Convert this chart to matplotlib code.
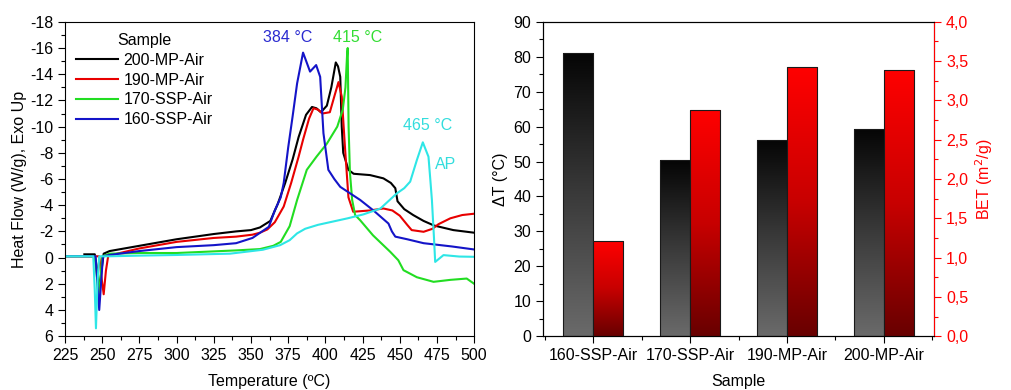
import matplotlib.pyplot as plt
import numpy as np
from matplotlib.colors import LinearSegmentedColormap
from matplotlib.ticker import MultipleLocator, FuncFormatter

plt.rcParams['font.family'] = ['Liberation Sans', 'DejaVu Sans']
plt.rcParams['font.size'] = 11.5
plt.rcParams['axes.unicode_minus'] = False

# DSC curves: temperature (C) and heat flow (W/g)
T_200 = [238, 245, 246.5, 248, 249.5, 251, 255, 275, 300, 325, 340, 350, 356, 363, 368, 373,
         378, 382, 387, 391, 394, 397, 401, 404, 407, 408.5, 410, 411, 412, 415.5, 419, 430,
         439, 444, 447, 448.5, 453, 459, 466, 473, 486, 500]
HF_200 = [-0.25, -0.25, 0.8, 2.5, 1.0, -0.3, -0.5, -0.9, -1.4, -1.8, -2.0, -2.1, -2.3, -2.8, -4.1, -5.7,
          -7.5, -9.2, -10.9, -11.5, -11.4, -11.1, -11.6, -13.0, -14.9, -14.6, -13.8, -10.0, -8.0, -6.7, -6.4, -6.3,
          -6.05, -5.7, -5.3, -4.3, -3.7, -3.25, -2.8, -2.45, -2.1, -1.9]

T_190 = [225, 248, 249.5, 251, 252.5, 254, 260, 275, 300, 325, 340, 351, 356, 361, 366, 372,
         377, 382, 385, 389, 392, 395, 398, 403, 406, 408.8, 411, 413.3, 415.5, 418.7, 430, 439,
         445, 450, 455, 458, 466, 472, 476, 484, 492, 500]
HF_190 = [-0.1, -0.1, 1.5, 2.8, 1.0, -0.1, -0.3, -0.7, -1.2, -1.5, -1.6, -1.75, -1.9, -2.15, -2.7, -3.9,
          -5.7, -7.7, -9.0, -10.6, -11.4, -11.3, -11.0, -11.1, -12.3, -13.4, -12.3, -8.2, -4.6, -3.5, -3.6, -3.75,
          -3.6, -3.2, -2.5, -2.1, -1.97, -2.2, -2.55, -3.0, -3.25, -3.35]

T_170 = [225, 245, 246.5, 247.5, 248.5, 250, 255, 275, 300, 340, 356, 365, 370, 376, 381, 387.5,
         394, 401, 408, 411.7, 413.5, 414.6, 415.0, 415.6, 416.5, 418, 420, 423.4, 432, 443.6,
         449, 452.5, 461.5, 472.7, 484, 495, 500]
HF_170 = [-0.1, -0.1, 1.5, 3.0, 2.0, -0.1, -0.3, -0.35, -0.35, -0.55, -0.65, -0.9, -1.2, -2.4, -4.4, -6.7,
          -7.7, -8.7, -10.0, -11.3, -13.0, -15.5, -16.0, -10.0, -6.5, -4.4, -3.25, -2.85, -1.7, -0.44,
          0.2, 0.96, 1.5, 1.85, 1.7, 1.6, 2.0]

T_160 = [225, 245.5, 246.8, 248, 249.2, 250.5, 255, 275, 300, 325, 340, 351, 362, 366, 370, 372,
         375, 378, 381, 385, 389.7, 393.8, 396.5, 398.7, 402, 406, 410, 423.4, 432.3, 442.4,
         444.7, 447, 455, 466, 485, 500]
HF_160 = [-0.1, -0.1, 2.0, 4.0, 2.0, -0.1, -0.2, -0.5, -0.8, -0.95, -1.1, -1.5, -2.35, -3.6, -4.6, -5.7,
          -8.4, -10.8, -13.3, -15.65, -14.2, -14.7, -13.8, -9.5, -6.7, -6.0, -5.4, -4.4, -3.6, -2.6,
          -2.0, -1.6, -1.4, -1.1, -0.85, -0.62]

T_AP = [225, 244, 245, 245.8, 246.8, 248, 255, 275, 300, 336, 358, 369.6, 376, 381, 386.4, 395,
        403, 415, 425.6, 437, 448, 453, 457, 461.5, 465.5, 469.3, 470.5, 471.6, 473, 473.8,
        479.4, 490, 500]
HF_AP = [-0.1, -0.1, 2.5, 5.4, 2.0, -0.1, -0.1, -0.15, -0.2, -0.3, -0.6, -0.95, -1.33, -1.85, -2.2, -2.5,
         -2.7, -3.0, -3.3, -3.75, -4.9, -5.3, -5.8, -7.45, -8.8, -7.7, -6.0, -4.4, -1.5, 0.33,
         -0.19, -0.08, -0.06]

# bar chart
samples = ['160-SSP-Air', '170-SSP-Air', '190-MP-Air', '200-MP-Air']
delta_T = [81.2, 50.3, 56.2, 59.3]
bet = [1.21, 2.88, 3.42, 3.39]


def gradient_bar(ax, x, h, width, cmap):
    bar = ax.bar(x, h, width, color='none', edgecolor='#1a1a1a', linewidth=0.8, zorder=3)[0]
    grad = np.linspace(1, 0, 256).reshape(-1, 1)
    im = ax.imshow(grad, cmap=cmap, aspect='auto', zorder=2,
                   extent=[x - width / 2, x + width / 2, 0, h])
    im.set_clip_path(bar)


def style_ticks(ax):
    ax.tick_params(which='major', direction='out', length=5, width=0.8)
    ax.tick_params(which='minor', direction='out', length=3, width=0.8)


fig = plt.figure(figsize=(10.11, 3.9), dpi=100)

# ---- left: DSC curves ----
ax1 = fig.add_axes([0.0643, 0.138, 0.4047, 0.806])
ax1.plot(T_200, HF_200, color='black', lw=1.5, label='200-MP-Air')
ax1.plot(T_190, HF_190, color='#e80000', lw=1.5, label='190-MP-Air')
ax1.plot(T_170, HF_170, color='#22dd22', lw=1.5, label='170-SSP-Air')
ax1.plot(T_160, HF_160, color='#1414c8', lw=1.5, label='160-SSP-Air')
ax1.plot(T_AP, HF_AP, color='#2ee6e6', lw=1.5)

ax1.set_xlim(225, 500)
ax1.set_ylim(6, -18)
ax1.xaxis.set_major_locator(MultipleLocator(25))
ax1.xaxis.set_minor_locator(MultipleLocator(12.5))
ax1.yaxis.set_major_locator(MultipleLocator(2))
ax1.yaxis.set_minor_locator(MultipleLocator(1))
style_ticks(ax1)
ax1.set_xlabel('Temperature (ºC)', labelpad=8)
ax1.set_ylabel('Heat Flow (W/g), Exo Up', labelpad=2)

ax1.text(375, -16.8, '384 °C', color='#2a2ad0', ha='center', va='center', fontsize=11.5)
ax1.text(422, -16.8, '415 °C', color='#33dd33', ha='center', va='center', fontsize=11.5)
ax1.text(468.5, -10.1, '465 °C', color='#33dddd', ha='center', va='center', fontsize=11.5)
ax1.text(481, -7.1, 'AP', color='#33dddd', ha='center', va='center', fontsize=11.5)

ax1.legend(title='Sample', loc='upper left', bbox_to_anchor=(0.0, 1.0), frameon=False,
           handlelength=2.6, handletextpad=0.35, labelspacing=0.3, borderaxespad=0.3,
           fontsize=11.5, title_fontsize=11.5)

# ---- right: bars ----
ax2 = fig.add_axes([0.537, 0.138, 0.387, 0.806])
ax3 = ax2.twinx()

cmap_black = LinearSegmentedColormap.from_list('blk', ['#6a6a6a', '#3a3a3a', '#050505'])
cmap_red = LinearSegmentedColormap.from_list('red', ['#680000', '#c80000', '#ff0000'])

w = 0.31
for i in range(len(samples)):
    gradient_bar(ax2, i - w / 2, delta_T[i], w, cmap_black)
    gradient_bar(ax3, i + w / 2, bet[i], w, cmap_red)

ax2.set_xlim(-0.52, 3.52)
ax2.set_ylim(0, 90)
ax3.set_ylim(0, 4)
ax2.set_xticks(range(len(samples)))
ax2.set_xticklabels(samples)
ax2.xaxis.set_minor_locator(MultipleLocator(0.5))
ax2.yaxis.set_major_locator(MultipleLocator(10))
ax2.yaxis.set_minor_locator(MultipleLocator(5))
ax3.yaxis.set_major_locator(MultipleLocator(0.5))
ax3.yaxis.set_minor_locator(MultipleLocator(0.25))
ax3.yaxis.set_major_formatter(FuncFormatter(lambda v, p: f'{v:.1f}'.replace('.', ',')))
style_ticks(ax2)
style_ticks(ax3)
ax3.tick_params(axis='y', which='both', colors='red')
ax3.spines['right'].set_color('red')

ax2.set_xlabel('Sample', labelpad=8)
ax2.set_ylabel('ΔT (°C)', labelpad=4)
ax3.set_ylabel('BET (m$^2$/g)', color='red', labelpad=4)

fig.savefig('out.png', dpi=100)
